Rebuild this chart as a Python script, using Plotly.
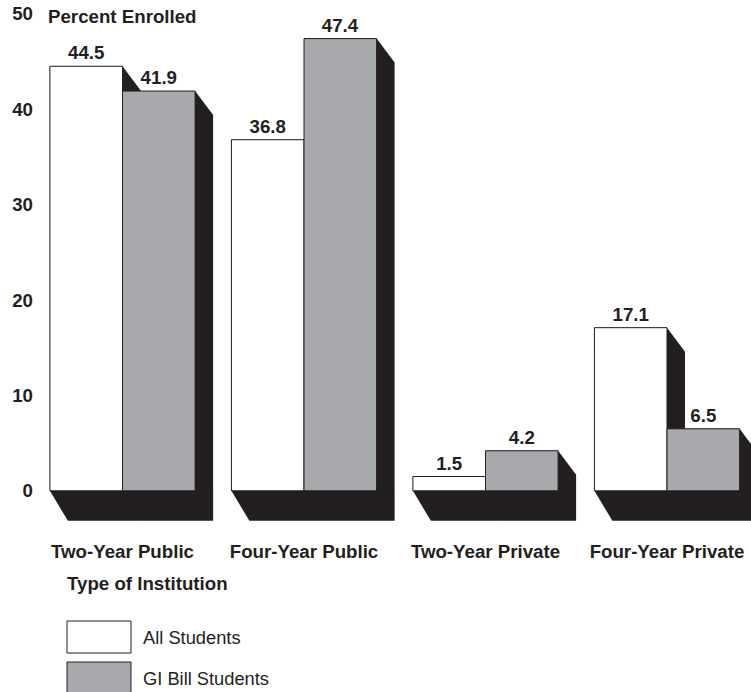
import plotly.graph_objects as go

categories = ["Two-Year Public", "Four-Year Public", "Two-Year Private", "Four-Year Private"]
all_students = [44.5, 36.8, 1.5, 17.1]
gi_bill = [41.9, 47.4, 4.2, 6.5]
y_ticks = [0, 10, 20, 30, 40, 50]

W, H = 751, 692
L, R, T, B = 34, 0, 9, 163
plot_w = W - L - R
plot_h = H - T - B
px_x = 181.5  # pixels per category unit
y_lo, y_hi = -4, 50.5
px_y = plot_h / (y_hi - y_lo)
x_lo = -(122.5 - L) / px_x
x_hi = x_lo + plot_w / px_x

BW = 0.4
INK = "#231f20"
GRAY = "#a7a9ac"
FONT = "Liberation Sans, Arial, sans-serif"
FS = 18.7

dx = 18 / px_x
dyb = 30 / px_y
dyt = 24 / px_y

xs = list(range(len(categories)))

shapes = []
def extrude(x0, x1, v):
    p = (f"M {x0},0 L {x0+dx},{-dyb} L {x1+dx},{-dyb} L {x1+dx},{v-dyt} "
         f"L {x1},{v} L {x0},{v} Z")
    shapes.append(dict(type="path", path=p, xref="x", yref="y",
                       fillcolor=INK, line=dict(width=0), layer="below"))

for i in xs:
    extrude(i - BW, i, all_students[i])
    extrude(i, i + BW, gi_bill[i])

fig = go.Figure()
fig.add_trace(go.Bar(
    x=xs, y=all_students, width=BW, offset=-BW, name="All Students",
    marker=dict(color="white", line=dict(color=INK, width=1)),
    text=[f"{v:.1f}" for v in all_students], textposition="outside",
    textfont=dict(family=FONT, size=FS, color=INK, weight="bold"),
    cliponaxis=False))
fig.add_trace(go.Bar(
    x=xs, y=gi_bill, width=BW, offset=0, name="GI Bill Students",
    marker=dict(color=GRAY, line=dict(color=INK, width=1)),
    text=[f"{v:.1f}" for v in gi_bill], textposition="outside",
    textfont=dict(family=FONT, size=FS, color=INK, weight="bold"),
    cliponaxis=False))

def px2paper_x(px):
    return (px - L) / plot_w

def px2paper_y(py):
    return (T + plot_h - py) / plot_h

# legend boxes
shapes.append(dict(type="rect", xref="paper", yref="paper",
                   x0=px2paper_x(67), x1=px2paper_x(131),
                   y0=px2paper_y(653), y1=px2paper_y(621),
                   fillcolor="white", line=dict(color=INK, width=1)))
shapes.append(dict(type="rect", xref="paper", yref="paper",
                   x0=px2paper_x(67), x1=px2paper_x(131),
                   y0=px2paper_y(694), y1=px2paper_y(662),
                   fillcolor=GRAY, line=dict(color=INK, width=1)))

annotations = [
    dict(text="Percent Enrolled", xref="paper", yref="paper",
         x=px2paper_x(46), y=px2paper_y(17), xanchor="left", yanchor="middle",
         showarrow=False, font=dict(family=FONT, size=FS, color=INK, weight="bold")),
    dict(text="Type of Institution", xref="paper", yref="paper",
         x=px2paper_x(65), y=px2paper_y(583), xanchor="left", yanchor="middle",
         showarrow=False, font=dict(family=FONT, size=FS, color=INK, weight="bold")),
    dict(text="All Students", xref="paper", yref="paper",
         x=px2paper_x(141), y=px2paper_y(637), xanchor="left", yanchor="middle",
         showarrow=False, font=dict(family=FONT, size=18.3, color=INK)),
    dict(text="GI Bill Students", xref="paper", yref="paper",
         x=px2paper_x(141), y=px2paper_y(679), xanchor="left", yanchor="middle",
         showarrow=False, font=dict(family=FONT, size=18.3, color=INK)),
]

fig.update_layout(
    width=W, height=H,
    margin=dict(l=L, r=R, t=T, b=B, pad=0),
    paper_bgcolor="white", plot_bgcolor="white",
    showlegend=False,
    barmode="overlay",
    shapes=shapes,
    annotations=annotations,
    xaxis=dict(range=[x_lo, x_hi], tickvals=xs, ticktext=categories,
               showgrid=False, zeroline=False, showline=False,
               ticks="outside", ticklen=6, tickcolor="rgba(0,0,0,0)",
               tickfont=dict(family=FONT, size=FS, color=INK, weight="bold"),
               fixedrange=True),
    yaxis=dict(range=[y_lo, y_hi], tickvals=y_ticks,
               showgrid=False, zeroline=False, showline=False,
               ticks="", tickfont=dict(family=FONT, size=FS, color=INK, weight="bold"),
               fixedrange=True),
)

fig.write_html("out.html")
